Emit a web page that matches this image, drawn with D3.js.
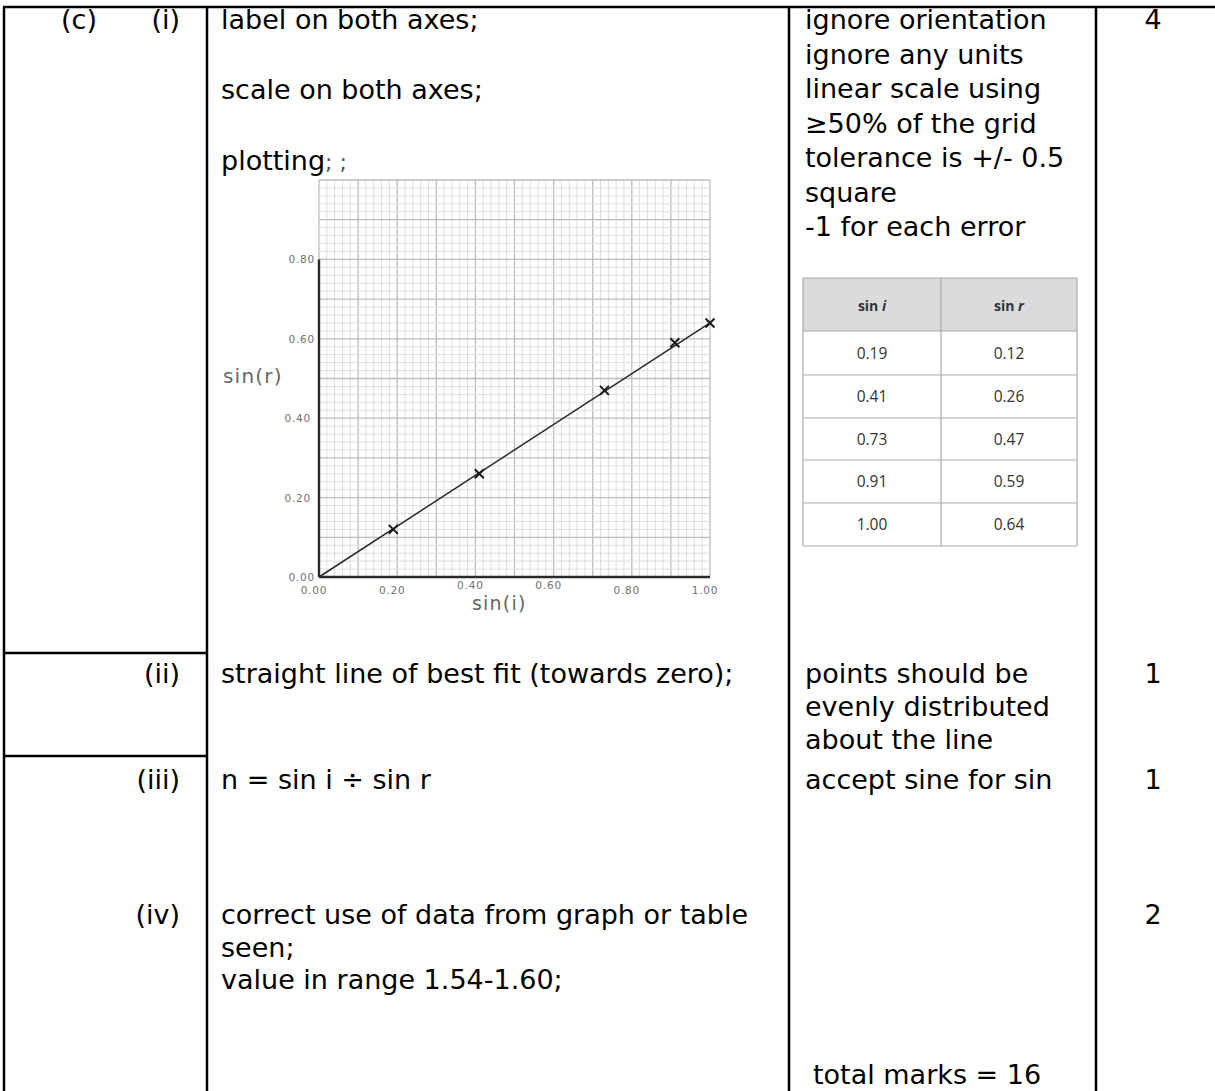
<!DOCTYPE html>
<html lang="en">
<head>
<meta charset="utf-8">
<script src="https://d3js.org/d3.v7.min.js"></script>
<style>
  body { margin: 0; background: #fff; }
  svg text { font-family: "DejaVu Sans", Verdana, sans-serif; }
</style>
</head>
<body>
<div id="my_dataviz"></div>
<script>

    // data
    var sinI = [0.19, 0.41, 0.73, 0.91, 1.00];
    var sinR = [0.12, 0.26, 0.47, 0.59, 0.64];
    var fitLine = [[0, 0], [1.00, 0.64]];
    var xTicks = [0, 0.2, 0.4, 0.6, 0.8, 1.0];
    var yTicks = [0, 0.2, 0.4, 0.6, 0.8];
    var tableHeader = ["sin i", "sin r"];

    // mark scheme text
    var partLabels = ["(i)", "(ii)", "(iii)", "(iv)"];
    var answerLines = [
      ["label on both axes;", "", "scale on both axes;", "", "plotting;;"],
      ["straight line of best fit (towards zero);"],
      ["n = sin i ÷ sin r"],
      ["correct use of data from graph or table", "seen;", "value in range 1.54-1.60;"]
    ];
    var noteLines = [
      ["ignore orientation", "ignore any units", "linear scale using", "≥50% of the grid",
       "tolerance is +/- 0.5", "square", "-1 for each error"],
      ["points should be", "evenly distributed", "about the line"],
      ["accept sine for sin"],
      []
    ];
    var marks = ["4", "1", "1", "2"];
    var rowBaselines = [29, 683, 789, 924];
    var rowSteps = [34.5, 33, 33, 32.7];

    var W = 1215, H = 1091;
    var svg = d3.select("#my_dataviz")
      .append("svg")
        .attr("width", W)
        .attr("height", H)

    // ---- outer table lines
    var lines = [
      [3, 7, W, 7],
      [4, 7, 4, H],
      [207, 7, 207, H],
      [789, 7, 789, H],
      [1096, 7, 1096, H],
      [4, 653, 207, 653],
      [4, 756, 207, 756]
    ];
    svg.append("g").selectAll("line").data(lines).enter().append("line")
      .attr("x1", d => d[0]).attr("y1", d => d[1])
      .attr("x2", d => d[2]).attr("y2", d => d[3])
      .attr("stroke", "#000").attr("stroke-width", 2.5)

    var fs = 27;

    svg.append("text").attr("x", 79).attr("y", rowBaselines[0]).attr("text-anchor", "middle")
      .style("font-size", fs + "px").text("(c)")

    partLabels.forEach(function(p, i) {
      svg.append("text").attr("x", 180).attr("y", rowBaselines[i]).attr("text-anchor", "end")
        .style("font-size", fs + "px").text(p)
      svg.append("text").attr("x", 1153).attr("y", rowBaselines[i]).attr("text-anchor", "middle")
        .style("font-size", fs + "px").text(marks[i])
      answerLines[i].forEach(function(t, j) {
        var step = i == 0 ? 35.2 : rowSteps[i];
        var tx = svg.append("text").attr("x", 221).attr("y", rowBaselines[i] + j * step)
          .style("font-size", fs + "px")
        if (t == "plotting;;") {
          tx.append("tspan").text("plotting")
          tx.append("tspan").attr("fill", "#555").style("font-size", "22px").text("; ;")
        } else tx.text(t)
      })
      noteLines[i].forEach(function(t, j) {
        svg.append("text").attr("x", 805).attr("y", rowBaselines[i] + j * rowSteps[i])
          .style("font-size", fs + "px").text(t)
      })
    })

    svg.append("text").attr("x", 813).attr("y", 1084)
      .style("font-size", fs + "px").text("total marks = 16")

    // ---- graph on squared paper
    var x = d3.scaleLinear().domain([0, 1]).range([319, 710])
    var y = d3.scaleLinear().domain([0, 1]).range([577, 180])

    var g = svg.append("g")
    var minor = d3.range(0, 1.0001, 0.02)
    var isMajor = d => Math.round(d * 50) % 5 == 0
    g.selectAll(".vminor").data(minor).enter().append("line")
      .attr("x1", d => x(d)).attr("x2", d => x(d)).attr("y1", y(0)).attr("y2", y(1))
      .attr("stroke", d => isMajor(d) ? "#bdbdbd" : "#dedede")
      .attr("stroke-width", d => isMajor(d) ? 1.3 : 1)
    g.selectAll(".hminor").data(minor).enter().append("line")
      .attr("y1", d => y(d)).attr("y2", d => y(d)).attr("x1", x(0)).attr("x2", x(1))
      .attr("stroke", d => isMajor(d) ? "#bdbdbd" : "#dedede")
      .attr("stroke-width", d => isMajor(d) ? 1.3 : 1)

    // axes drawn by hand
    g.append("line").attr("x1", x(0)).attr("x2", x(0)).attr("y1", y(0)).attr("y2", y(0.8))
      .attr("stroke", "#2a2a2a").attr("stroke-width", 2.4)
    g.append("line").attr("x1", x(0)).attr("x2", x(1)).attr("y1", y(0)).attr("y2", y(0))
      .attr("stroke", "#2a2a2a").attr("stroke-width", 2.4)

    var labStyle = function(sel) {
      sel.style("font-size", "10.5px").style("fill", "#707070").style("letter-spacing", "0.8px")
    }
    g.selectAll(".ylab").data(yTicks).enter().append("text")
      .attr("x", d => x(0) - (d < 0.5 && d > 0 ? 8 : 4)).attr("y", d => y(d) + 4)
      .attr("text-anchor", "end")
      .call(labStyle)
      .text(d => d.toFixed(2))
    g.selectAll(".xlab").data(xTicks).enter().append("text")
      .attr("x", d => x(d) - 5).attr("y", d => y(0) + (d == 0.4 || d == 0.6 ? 12 : 17))
      .attr("text-anchor", "middle")
      .call(labStyle)
      .text(d => d.toFixed(2))

    g.append("text").attr("x", 223).attr("y", 383)
      .style("font-size", "20px").style("fill", "#666").style("letter-spacing", "1.2px")
      .text("sin(r)")
    g.append("text").attr("x", 472).attr("y", 610)
      .style("font-size", "19px").style("fill", "#666").style("letter-spacing", "1.2px")
      .text("sin(i)")

    // best fit line
    g.append("path").datum(fitLine)
      .attr("d", d3.line().x(d => x(d[0])).y(d => y(d[1])))
      .attr("stroke", "#2a2a2a").attr("stroke-width", 1.5).attr("fill", "none")

    // crosses
    var pts = sinI.map((v, i) => [v, sinR[i]])
    g.selectAll(".pt").data(pts).enter().append("path")
      .attr("d", d => {
        var cx = x(d[0]), cy = y(d[1]), s = 4.5
        return "M" + (cx - s) + "," + (cy - s) + "L" + (cx + s) + "," + (cy + s) +
               "M" + (cx - s) + "," + (cy + s) + "L" + (cx + s) + "," + (cy - s)
      })
      .attr("stroke", "#1a1a1a").attr("stroke-width", 2)

    // ---- data table
    var tx0 = 803, tx1 = 941, tx2 = 1077
    var rowY = [278, 331, 375, 418, 460, 503, 546]
    var tb = svg.append("g")
    tb.append("rect").attr("x", tx0).attr("y", rowY[0]).attr("width", tx2 - tx0).attr("height", rowY[1] - rowY[0])
      .attr("fill", "#d9dbdc")
    tb.selectAll(".hl").data(rowY).enter().append("line")
      .attr("x1", tx0).attr("x2", tx2).attr("y1", d => d).attr("y2", d => d)
      .attr("stroke", "#a9a9a9").attr("stroke-width", 1.2)
    ;[tx0, tx1, tx2].forEach(function(v) {
      tb.append("line").attr("x1", v).attr("x2", v).attr("y1", rowY[0]).attr("y2", rowY[6])
        .attr("stroke", "#a9a9a9").attr("stroke-width", 1.2)
    })
    tableHeader.forEach(function(h, k) {
      var t = tb.append("text").attr("x", k == 0 ? (tx0 + tx1) / 2 : (tx1 + tx2) / 2).attr("y", 311)
        .attr("text-anchor", "middle").style("font-size", "14px").style("font-weight", "bold")
        .style("font-family", "'Open Sans', sans-serif").style("fill", "#333")
      t.append("tspan").text(h.split(" ")[0] + " ")
      t.append("tspan").style("font-style", "italic").text(h.split(" ")[1])
    })
    sinI.forEach(function(v, i) {
      var cy = (rowY[i + 1] + rowY[i + 2]) / 2 + 5.5
      tb.append("text").attr("x", (tx0 + tx1) / 2).attr("y", cy).attr("text-anchor", "middle")
        .style("font-size", "15.5px").style("fill", "#333").style("font-family", "'Open Sans', sans-serif")
        .text(v.toFixed(2))
      tb.append("text").attr("x", (tx1 + tx2) / 2).attr("y", cy).attr("text-anchor", "middle")
        .style("font-size", "15.5px").style("fill", "#333").style("font-family", "'Open Sans', sans-serif")
        .text(sinR[i].toFixed(2))
    })

</script>
</body>
</html>
